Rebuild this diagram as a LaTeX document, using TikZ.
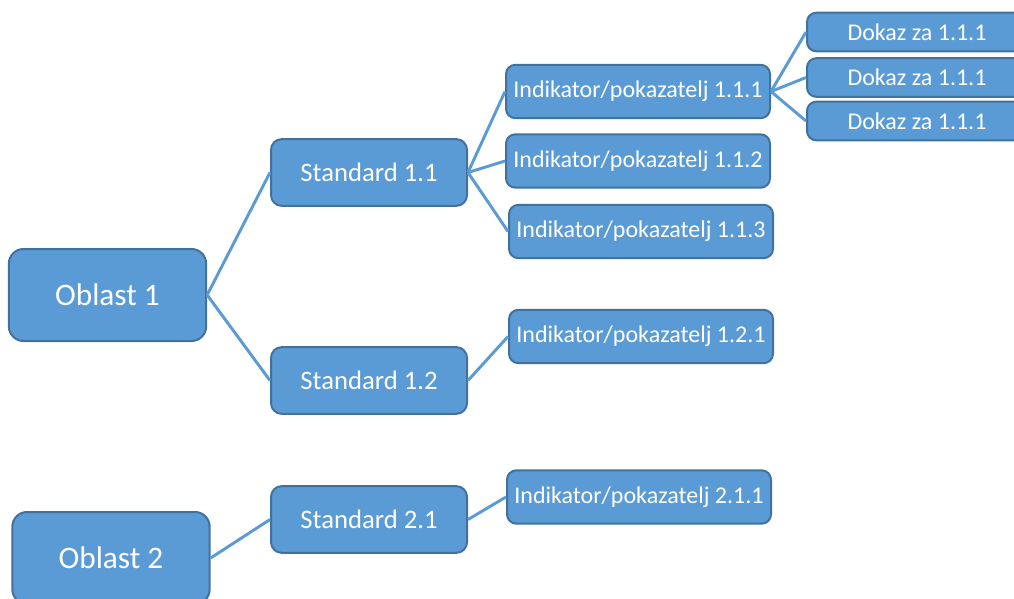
\documentclass[tikz,border=0pt]{standalone}
\usepackage{fontspec}
\setmainfont{Carlito}
\definecolor{boxfill}{HTML}{5B9BD5}
\definecolor{boxline}{HTML}{41719C}
\tikzset{
  box/.style={draw=boxline,line width=1.5pt,fill=boxfill,text=white,rounded corners=7pt,inner sep=0pt},
  oblast/.style={box,minimum width=148pt,minimum height=69pt,rounded corners=11pt,font=\fontsize{23.5}{28}\selectfont},
  standard/.style={box,minimum width=147pt,minimum height=50pt,rounded corners=8pt,font=\fontsize{20}{24}\selectfont},
  indik/.style={box,minimum width=198pt,minimum height=40pt,font=\fontsize{18}{22}\selectfont},
  dokaz/.style={box,minimum width=165pt,minimum height=29pt,font=\fontsize{18}{22}\selectfont},
  link/.style={draw=boxfill,line width=2.2pt}
}
\begin{document}
\begin{tikzpicture}[x=0.75pt,y=-0.75pt]
\useasboundingbox (0,0) rectangle (1014,599);
\clip (0,0) rectangle (1014,599);
\node[oblast] (O1) at (107.5,295) {Oblast 1};
\node[oblast] (O2) at (111,558) {Oblast 2};
\node[standard] (S11) at (369,172.5) {Standard 1.1};
\node[standard] (S12) at (369,380.5) {Standard 1.2};
\node[standard] (S21) at (369,519.5) {Standard 2.1};
\node[indik] (I111) at (638,91.5) {Indikator/pokazatelj 1.1.1};
\node[indik] (I112) at (638,161) {Indikator/pokazatelj 1.1.2};
\node[indik] (I113) at (641,231.5) {Indikator/pokazatelj 1.1.3};
\node[indik] (I121) at (641,336.5) {Indikator/pokazatelj 1.2.1};
\node[indik] (I211) at (639,497) {Indikator/pokazatelj 2.1.1};
\node[dokaz] (D1) at (917,32) {Dokaz za 1.1.1};
\node[dokaz] (D2) at (917,77.5) {Dokaz za 1.1.1};
\node[dokaz] (D3) at (917,121) {Dokaz za 1.1.1};
\draw[link] (O1.east) -- (S11.west);
\draw[link] (O1.east) -- (S12.west);
\draw[link] (O2.east) -- (S21.west);
\draw[link] (S11.east) -- (I111.west);
\draw[link] (S11.east) -- (I112.west);
\draw[link] (S11.east) -- (I113.west);
\draw[link] (S12.east) -- (I121.west);
\draw[link] (S21.east) -- (I211.west);
\draw[link] (I111.east) -- (D1.west);
\draw[link] (I111.east) -- (D2.west);
\draw[link] (I111.east) -- (D3.west);
\end{tikzpicture}
\end{document}
